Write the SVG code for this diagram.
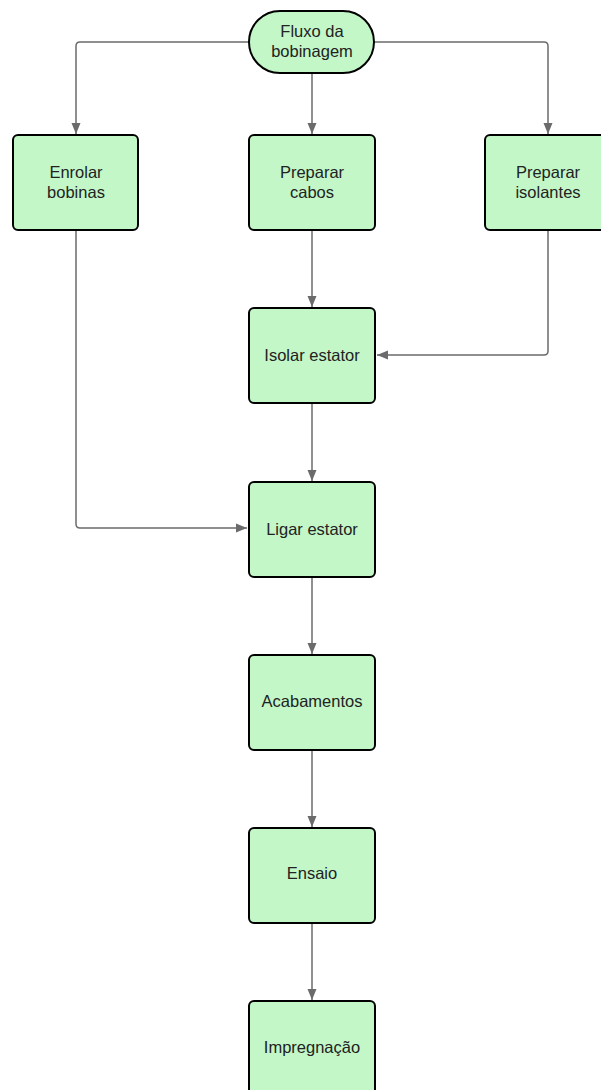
<svg xmlns="http://www.w3.org/2000/svg" width="601" height="1090" viewBox="0 0 601 1090">
<style>
.box{fill:#c3f7c8;stroke:#000;stroke-width:2}
.lbl{font-family:"Liberation Sans",Arial,sans-serif;font-size:16.5px;fill:#222;text-anchor:middle}
.con{fill:none;stroke:#6b6b6b;stroke-width:1.5;marker-end:url(#arr)}
</style>
<defs>
<marker id="arr" markerUnits="userSpaceOnUse" markerWidth="12" markerHeight="10" refX="11" refY="5" orient="auto">
<path d="M0,0.5 L11,5 L0,9.5 z" fill="#6b6b6b"/>
</marker>
</defs>
<rect width="601" height="1090" fill="#fff"/>
<g id="connectors">
<path class="con" d="M249,42 H80 Q76,42 76,46 V134"/>
<path class="con" d="M374,42 H544 Q548,42 548,46 V134"/>
<path class="con" d="M312,73 V134"/>
<path class="con" d="M312,230 V307"/>
<path class="con" d="M548,230 V351 Q548,355 544,355 H377"/>
<path class="con" d="M76,230 V524 Q76,528 80,528 H247"/>
<path class="con" d="M312,403 V481"/>
<path class="con" d="M312,577 V654"/>
<path class="con" d="M312,750 V827"/>
<path class="con" d="M312,923 V1000"/>
</g>
<g id="start">
<rect class="box" x="249" y="11" width="125" height="62" rx="31"/>
<text class="lbl" x="312" y="37">Fluxo da</text>
<text class="lbl" x="312" y="56.5">bobinagem</text>
</g>
<g id="enrolar">
<rect class="box" x="13" y="135" width="125" height="95" rx="5"/>
<text class="lbl" x="76" y="178">Enrolar</text>
<text class="lbl" x="76" y="198">bobinas</text>
</g>
<g id="cabos">
<rect class="box" x="249" y="135" width="126" height="95" rx="5"/>
<text class="lbl" x="312" y="178">Preparar</text>
<text class="lbl" x="312" y="198">cabos</text>
</g>
<g id="isolantes">
<rect class="box" x="485" y="135" width="125" height="95" rx="5"/>
<text class="lbl" x="548" y="178">Preparar</text>
<text class="lbl" x="548" y="198">isolantes</text>
</g>
<g id="isolar">
<rect class="box" x="249" y="308" width="126" height="95" rx="5"/>
<text class="lbl" x="312" y="361">Isolar estator</text>
</g>
<g id="ligar">
<rect class="box" x="249" y="482" width="126" height="95" rx="5"/>
<text class="lbl" x="312" y="534.5">Ligar estator</text>
</g>
<g id="acabamentos">
<rect class="box" x="249" y="655" width="126" height="95" rx="5"/>
<text class="lbl" x="312" y="707">Acabamentos</text>
</g>
<g id="ensaio">
<rect class="box" x="249" y="828" width="126" height="95" rx="5"/>
<text class="lbl" x="312" y="879">Ensaio</text>
</g>
<g id="impregnacao">
<rect class="box" x="249" y="1001" width="126" height="95" rx="5"/>
<text class="lbl" x="312" y="1053">Impregnação</text>
</g>
</svg>
